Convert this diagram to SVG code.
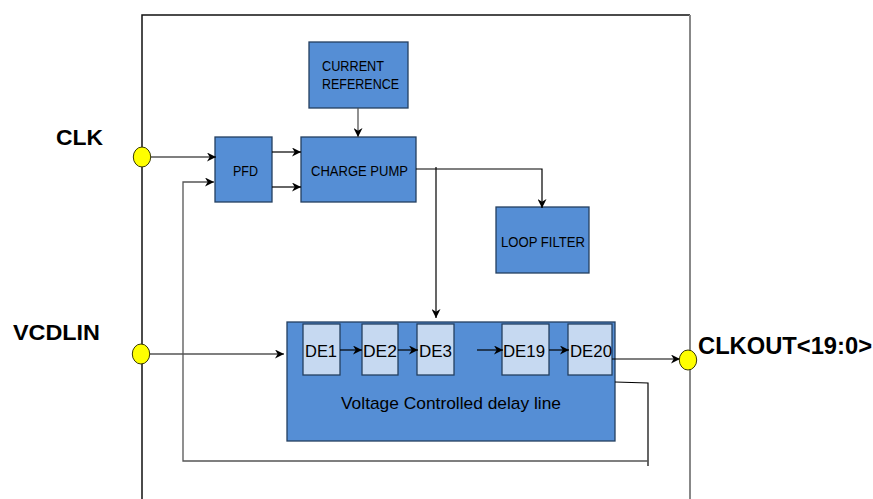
<svg xmlns="http://www.w3.org/2000/svg" width="873" height="499" viewBox="0 0 873 499">
<defs>
<style>
.blk{fill:#558ED5;stroke:#243F60;stroke-width:1.3}
.de{fill:#C6D9F1;stroke:#243F60;stroke-width:1.3}
.pin{fill:#FFFF00;stroke:#3A3A00;stroke-width:1}
.t{font-family:"Liberation Sans",Arial,sans-serif;fill:#000}
.lbl{font-family:"Liberation Sans",Arial,sans-serif;font-weight:bold;fill:#000}
.w{fill:none;stroke:#000;stroke-width:1.2}
.g{fill:none;stroke:#555;stroke-width:1.3}
</style>
<marker id="arr" viewBox="0 0 10 10" refX="10" refY="5" markerWidth="9" markerHeight="9" orient="auto" markerUnits="userSpaceOnUse">
<path d="M0,0 L10,5 L0,10 L3,5 z" fill="#000"/>
</marker>
</defs>
<rect width="873" height="499" fill="#fff"/>

<g id="boundary">
<path d="M142,499 V15 H690" fill="none" stroke="#111" stroke-width="1.5"/>
<path d="M690,15 V499" fill="none" stroke="#888" stroke-width="2"/>
</g>

<g id="current-reference">
<rect class="blk" x="309" y="42" width="99" height="66"/>
<text class="t" x="322" y="70.5" font-size="14" textLength="62" lengthAdjust="spacingAndGlyphs">CURRENT</text>
<text class="t" x="322" y="89" font-size="14" textLength="77" lengthAdjust="spacingAndGlyphs">REFERENCE</text>
</g>

<g id="pfd">
<rect class="blk" x="215" y="137" width="57" height="65"/>
<text class="t" x="233" y="176" font-size="15" textLength="25" lengthAdjust="spacingAndGlyphs">PFD</text>
</g>

<g id="charge-pump">
<rect class="blk" x="301" y="137" width="115" height="65"/>
<text class="t" x="311" y="176" font-size="15" textLength="97" lengthAdjust="spacingAndGlyphs">CHARGE PUMP</text>
</g>

<g id="loop-filter">
<rect class="blk" x="496" y="207" width="93" height="66"/>
<text class="t" x="501" y="246.5" font-size="14" textLength="84" lengthAdjust="spacingAndGlyphs">LOOP FILTER</text>
</g>

<g id="vcdl">
<rect class="blk" x="287" y="322" width="328" height="119"/>
<text class="t" x="451" y="409" font-size="17" text-anchor="middle" textLength="220" lengthAdjust="spacingAndGlyphs">Voltage Controlled delay line</text>
</g>

<g id="de1">
<rect class="de" x="303" y="324" width="37" height="51"/>
<text class="t" x="305" y="357" font-size="17" textLength="32" lengthAdjust="spacingAndGlyphs">DE1</text>
</g>
<g id="de2">
<rect class="de" x="362" y="324" width="36" height="51"/>
<text class="t" x="363" y="357" font-size="17" textLength="34" lengthAdjust="spacingAndGlyphs">DE2</text>
</g>
<g id="de3">
<rect class="de" x="417" y="324" width="37" height="51"/>
<text class="t" x="419" y="357" font-size="17" textLength="33" lengthAdjust="spacingAndGlyphs">DE3</text>
</g>
<g id="de19">
<rect class="de" x="502" y="324" width="47" height="51"/>
<text class="t" x="503" y="357" font-size="17" textLength="42" lengthAdjust="spacingAndGlyphs">DE19</text>
</g>
<g id="de20">
<rect class="de" x="568" y="324" width="44" height="51"/>
<text class="t" x="570" y="357" font-size="17" textLength="42" lengthAdjust="spacingAndGlyphs">DE20</text>
</g>

<g id="connectors">
<path class="w" d="M151,157 H216" marker-end="url(#arr)"/>
<path class="w" d="M272,152 H301" marker-end="url(#arr)"/>
<path class="w" d="M272,187 H301" marker-end="url(#arr)"/>
<path class="g" d="M358,108 V137" marker-end="url(#arr)"/>
<path class="w" d="M416,169 H542 V208" marker-end="url(#arr)"/>
<path class="w" d="M436,167 V318" marker-end="url(#arr)"/>
<path class="w" d="M150,354 H284" marker-end="url(#arr)"/>
<path class="w" d="M340,350 H362" marker-end="url(#arr)"/>
<path class="w" d="M398,350 H418" marker-end="url(#arr)"/>
<path class="w" d="M477,350 H503" marker-end="url(#arr)"/>
<path class="w" d="M549,350 H569" marker-end="url(#arr)"/>
<path class="w" d="M612,359 H680" marker-end="url(#arr)"/>
<path class="w" d="M615,382 L648,383 V466"/>
<path class="g" d="M648,461 H183 V182 H214" marker-end="url(#arr)"/>
</g>

<g id="clk">
<ellipse class="pin" cx="142" cy="157" rx="8.7" ry="10"/>
<text class="lbl" x="56" y="145" font-size="22" textLength="47" lengthAdjust="spacingAndGlyphs">CLK</text>
</g>
<g id="vcdlin">
<ellipse class="pin" cx="141" cy="354" rx="8.7" ry="10"/>
<text class="lbl" x="13" y="340" font-size="22" textLength="87" lengthAdjust="spacingAndGlyphs">VCDLIN</text>
</g>
<g id="clkout">
<ellipse class="pin" cx="688" cy="360" rx="8.7" ry="10"/>
<text class="lbl" x="698" y="353.5" font-size="23" textLength="174" lengthAdjust="spacingAndGlyphs">CLKOUT&lt;19:0&gt;</text>
</g>
</svg>
